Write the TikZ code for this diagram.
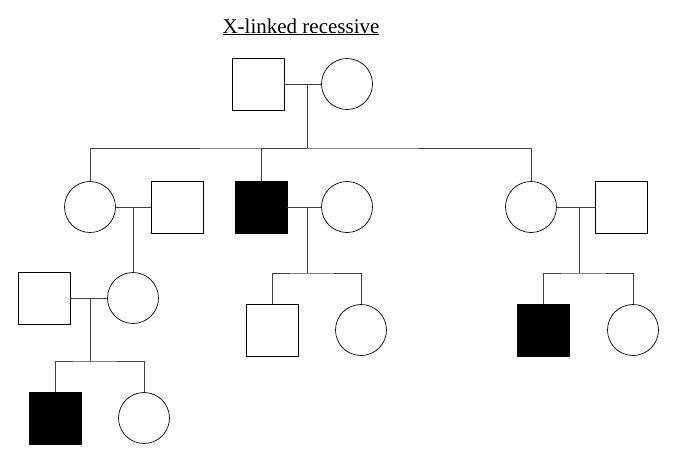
\documentclass[tikz,border=0pt]{standalone}
\usepackage{fontspec}
\setmainfont{Liberation Serif}
\begin{document}
\begin{tikzpicture}[x=1pt, y=-1pt, line width=0.7pt,
        male/.style={draw, rectangle, minimum size=52pt, inner sep=0pt},
        female/.style={draw, circle, minimum size=51pt, inner sep=0pt},
        affected/.style={fill=black},
        link/.style={draw=black!75}]
    \useasboundingbox (0,0) rectangle (678,467);
    \node[anchor=base] (title) at (301,33) {\fontsize{21}{24}\selectfont\underline{X-linked recessive}};
    % generation I
    \node[male]   (I1) at (258,84) {};
    \node[female] (I2) at (347,84) {};
    % generation II
    \node[female]          (II1) at (90,207) {};
    \node[male]            (II2) at (177,207) {};
    \node[male, affected]  (II3) at (261,207) {};
    \node[female]          (II4) at (347,207) {};
    \node[female]          (II5) at (531,207) {};
    \node[male]            (II6) at (621,207) {};
    % generation III
    \node[male]            (III1) at (44,298) {};
    \node[female]          (III2) at (133,298) {};
    \node[male]            (III3) at (272,330) {};
    \node[female]          (III4) at (361,330) {};
    \node[male, affected]  (III5) at (543,330) {};
    \node[female]          (III6) at (633,330) {};
    % generation IV
    \node[male, affected]  (IV1) at (55,418) {};
    \node[female]          (IV2) at (144,418) {};
    % marriages and sibships
    \coordinate (m1) at (307,84);   \coordinate (s1) at (307,148);
    \coordinate (m2) at (133,207);
    \coordinate (m3) at (307,207);  \coordinate (s3) at (307,273);
    \coordinate (m4) at (579,207);  \coordinate (s4) at (579,273);
    \coordinate (m5) at (90,298);   \coordinate (s5) at (90,361);
    \draw[link] (I1) -- (I2);
    \draw[link] (m1) -- (s1);
    \draw[link] (II1.north) |- (s1) -| (II5.north);
    \draw[link] (II3.north) |- (s1);
    \draw[link] (II1) -- (II2);
    \draw[link] (m2) -- (III2.north);
    \draw[link] (II3) -- (II4);
    \draw[link] (m3) -- (s3);
    \draw[link] (III3.north) |- (s3) -| (III4.north);
    \draw[link] (II5) -- (II6);
    \draw[link] (m4) -- (s4);
    \draw[link] (III5.north) |- (s4) -| (III6.north);
    \draw[link] (III1) -- (III2);
    \draw[link] (m5) -- (s5);
    \draw[link] (IV1.north) |- (s5) -| (IV2.north);
\end{tikzpicture}
\end{document}
